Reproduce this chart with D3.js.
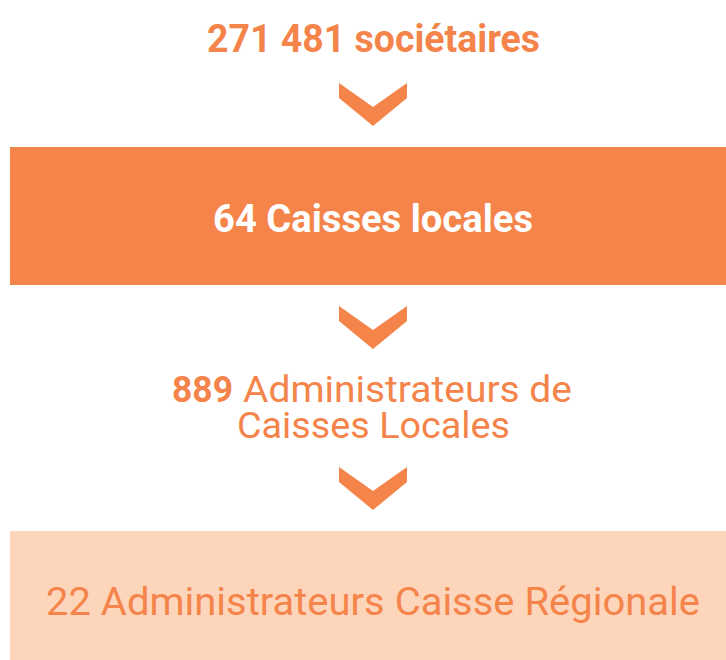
<!DOCTYPE html>
<html>
<head>
<meta charset="utf-8">
<script src="https://cdn.jsdelivr.net/npm/d3@7"></script>
<style>
  body { margin: 0; background: #fff; }
  svg { display: block; }
</style>
</head>
<body>
<div id="chart"></div>
<script>
const W = 726, H = 660;

// niveaux de la pyramide
const counts = ["271 481", "64", "889", "22"];
const labels = ["sociétaires", "Caisses locales", "Administrateurs de", "Administrateurs Caisse Régionale"];
const subLabels = ["", "", "Caisses Locales", ""];

const orange = "#f4844a";
const peach = "#fdd5ba";

const svg = d3.select("#chart").append("svg")
  .attr("width", W)
  .attr("height", H);

const font = "Roboto, 'DejaVu Sans Condensed', sans-serif";

// bandes
svg.append("rect")
  .attr("x", 10).attr("y", 147)
  .attr("width", W - 10).attr("height", 138)
  .attr("fill", orange);

svg.append("rect")
  .attr("x", 10).attr("y", 531)
  .attr("width", W - 10).attr("height", H - 531)
  .attr("fill", peach);

// chevrons
const chevronTops = [83, 306, 467];
const chev = d3.line();
function chevronPts(cx, y0) {
  return [[cx - 34, y0], [cx, y0 + 24], [cx + 34, y0], [cx + 34, y0 + 15], [cx, y0 + 43], [cx - 34, y0 + 15]];
}
svg.selectAll(".chev")
  .data(chevronTops)
  .join("path")
  .attr("class", "chev")
  .attr("d", d => chev(chevronPts(373, d)) + "Z")
  .attr("fill", orange);

// textes
function txt(str, x, y, len, opts) {
  return svg.append("text")
    .attr("x", x).attr("y", y)
    .attr("textLength", len)
    .attr("lengthAdjust", "spacingAndGlyphs")
    .attr("font-family", font)
    .attr("font-size", opts.size || 39)
    .attr("font-weight", opts.bold ? 700 : 400)
    .attr("fill", opts.fill || orange)
    .text(str);
}

txt(counts[0] + " " + labels[0], 207, 52, 333, {bold: true});
txt(counts[1] + " " + labels[1], 213, 232, 320, {bold: true, fill: "#fff"});
txt(counts[2], 172, 402, 61, {bold: true, size: 37});
txt(labels[2], 243, 402, 329, {size: 37});
txt(subLabels[2], 237, 438, 273, {size: 37});
txt(counts[3] + " " + labels[3], 46, 615, 654, {});
</script>
</body>
</html>
